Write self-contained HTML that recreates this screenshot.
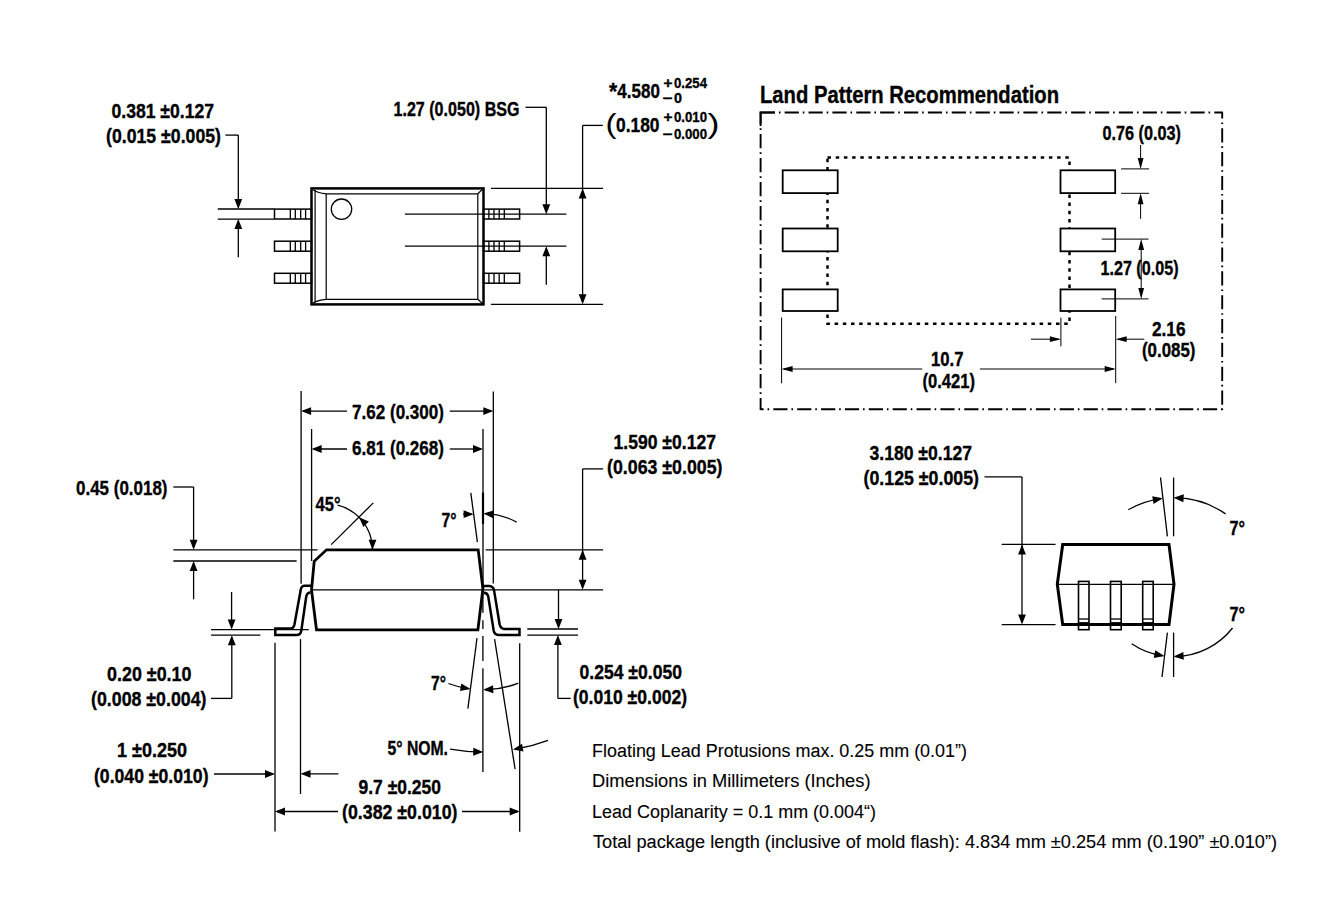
<!DOCTYPE html>
<html><head><meta charset="utf-8"><style>
html,body{margin:0;padding:0;background:#fff;width:1343px;height:921px;overflow:hidden}
svg{display:block}
text{font-family:"Liberation Sans",sans-serif;fill:#000}
</style></head><body>
<svg width="1343" height="921" viewBox="0 0 1343 921">
<rect width="1343" height="921" fill="#fff"/>
<g stroke="#000" fill="none" stroke-linecap="butt">
<rect x="311.5" y="188.4" width="172" height="116" stroke-width="2.5" fill="none"/>
<line x1="315.1" y1="190" x2="315.1" y2="302.8" stroke-width="1.2" />
<line x1="326.2" y1="193.8" x2="326.2" y2="299.3" stroke-width="1.2" />
<line x1="326.2" y1="193.8" x2="477.8" y2="193.8" stroke-width="1.2" />
<line x1="477.8" y1="193.8" x2="477.8" y2="299.3" stroke-width="1.2" />
<line x1="326.2" y1="299.3" x2="477.8" y2="299.3" stroke-width="1.2" />
<line x1="477.8" y1="193.8" x2="483.3" y2="188.5" stroke-width="1.2" />
<line x1="477.8" y1="299.3" x2="483.3" y2="304.3" stroke-width="1.2" />
<path d="M313,189.8 Q318,193.2 326.2,193.8" stroke-width="1.2" fill="none" />
<path d="M313,303 Q318,299.8 326.2,299.3" stroke-width="1.2" fill="none" />
<circle cx="341.5" cy="209.2" r="10.2" stroke-width="1.3" fill="none"/>
<rect x="274.5" y="209.1" width="37" height="9.9" stroke-width="1.5" fill="none"/>
<line x1="290.3" y1="209.1" x2="290.3" y2="219.0" stroke-width="1.3" />
<line x1="295.3" y1="209.1" x2="295.3" y2="219.0" stroke-width="1.3" />
<line x1="300.7" y1="209.1" x2="300.7" y2="219.0" stroke-width="1.3" />
<line x1="305.6" y1="209.1" x2="305.6" y2="219.0" stroke-width="1.3" />
<rect x="483.5" y="209.1" width="36.1" height="9.9" stroke-width="1.5" fill="none"/>
<line x1="488.9" y1="209.1" x2="488.9" y2="219.0" stroke-width="1.3" />
<line x1="494.0" y1="209.1" x2="494.0" y2="219.0" stroke-width="1.3" />
<line x1="499.2" y1="209.1" x2="499.2" y2="219.0" stroke-width="1.3" />
<line x1="504.3" y1="209.1" x2="504.3" y2="219.0" stroke-width="1.3" />
<rect x="274.5" y="241.2" width="37" height="10.0" stroke-width="1.5" fill="none"/>
<line x1="290.3" y1="241.2" x2="290.3" y2="251.2" stroke-width="1.3" />
<line x1="295.3" y1="241.2" x2="295.3" y2="251.2" stroke-width="1.3" />
<line x1="300.7" y1="241.2" x2="300.7" y2="251.2" stroke-width="1.3" />
<line x1="305.6" y1="241.2" x2="305.6" y2="251.2" stroke-width="1.3" />
<rect x="483.5" y="241.2" width="36.1" height="10.0" stroke-width="1.5" fill="none"/>
<line x1="488.9" y1="241.2" x2="488.9" y2="251.2" stroke-width="1.3" />
<line x1="494.0" y1="241.2" x2="494.0" y2="251.2" stroke-width="1.3" />
<line x1="499.2" y1="241.2" x2="499.2" y2="251.2" stroke-width="1.3" />
<line x1="504.3" y1="241.2" x2="504.3" y2="251.2" stroke-width="1.3" />
<rect x="274.5" y="273.3" width="37" height="9.9" stroke-width="1.5" fill="none"/>
<line x1="290.3" y1="273.3" x2="290.3" y2="283.2" stroke-width="1.3" />
<line x1="295.3" y1="273.3" x2="295.3" y2="283.2" stroke-width="1.3" />
<line x1="300.7" y1="273.3" x2="300.7" y2="283.2" stroke-width="1.3" />
<line x1="305.6" y1="273.3" x2="305.6" y2="283.2" stroke-width="1.3" />
<rect x="483.5" y="273.3" width="36.1" height="9.9" stroke-width="1.5" fill="none"/>
<line x1="488.9" y1="273.3" x2="488.9" y2="283.2" stroke-width="1.3" />
<line x1="494.0" y1="273.3" x2="494.0" y2="283.2" stroke-width="1.3" />
<line x1="499.2" y1="273.3" x2="499.2" y2="283.2" stroke-width="1.3" />
<line x1="504.3" y1="273.3" x2="504.3" y2="283.2" stroke-width="1.3" />
<line x1="404.9" y1="214.2" x2="566.3" y2="214.2" stroke-width="1.3" />
<line x1="404.9" y1="246.2" x2="566.3" y2="246.2" stroke-width="1.3" />
<line x1="217.8" y1="209.0" x2="274.5" y2="209.0" stroke-width="1.3" />
<line x1="217.8" y1="219.1" x2="274.5" y2="219.1" stroke-width="1.3" />
<line x1="225.4" y1="135.1" x2="238.3" y2="135.1" stroke-width="1.3" />
<line x1="238.3" y1="135.1" x2="238.3" y2="207.0" stroke-width="1.3" />
<polygon points="238.30,209.00 234.40,199.00 242.20,199.00" fill="#000" stroke="none"/>
<line x1="238.3" y1="257.3" x2="238.3" y2="221.1" stroke-width="1.3" />
<polygon points="238.30,219.10 242.20,229.10 234.40,229.10" fill="#000" stroke="none"/>
<text x="111.50" y="117.8" textLength="102.50" lengthAdjust="spacingAndGlyphs" font-size="19.5" font-weight="bold" stroke="#000" stroke-width="0.35">0.381 ±0.127</text>
<text x="106.00" y="142.9" textLength="115.00" lengthAdjust="spacingAndGlyphs" font-size="19.5" font-weight="bold" stroke="#000" stroke-width="0.35">(0.015 ±0.005)</text>
<text x="393.50" y="115.9" textLength="126.00" lengthAdjust="spacingAndGlyphs" font-size="19.5" font-weight="bold" stroke="#000" stroke-width="0.35">1.27 (0.050) BSG</text>
<line x1="525.5" y1="107.3" x2="546.3" y2="107.3" stroke-width="1.3" />
<line x1="546.3" y1="107.3" x2="546.3" y2="212.2" stroke-width="1.3" />
<polygon points="546.30,214.20 542.40,204.20 550.20,204.20" fill="#000" stroke="none"/>
<line x1="546.3" y1="284.7" x2="546.3" y2="248.2" stroke-width="1.3" />
<polygon points="546.30,246.20 550.20,256.20 542.40,256.20" fill="#000" stroke="none"/>
<line x1="490.9" y1="188.4" x2="603.1" y2="188.4" stroke-width="1.3" />
<line x1="490.9" y1="304.3" x2="603.1" y2="304.3" stroke-width="1.3" />
<line x1="582.6" y1="125.4" x2="602.8" y2="125.4" stroke-width="1.3" />
<line x1="582.6" y1="125.4" x2="582.6" y2="302" stroke-width="1.3" />
<polygon points="582.60,188.40 586.50,198.40 578.70,198.40" fill="#000" stroke="none"/>
<polygon points="582.60,304.30 578.70,294.30 586.50,294.30" fill="#000" stroke="none"/>
<text x="609.00" y="99.5" textLength="8.20" lengthAdjust="spacingAndGlyphs" font-size="24" font-weight="bold" stroke="#000" stroke-width="0.35">*</text>
<text x="617.30" y="98.0" textLength="42.60" lengthAdjust="spacingAndGlyphs" font-size="19.5" font-weight="bold" stroke="#000" stroke-width="0.35">4.580</text>
<text x="663.50" y="87.9" textLength="9.00" lengthAdjust="spacingAndGlyphs" font-size="14.5" font-weight="bold" stroke="#000" stroke-width="0.35">+</text>
<text x="674.00" y="87.9" textLength="33.00" lengthAdjust="spacingAndGlyphs" font-size="14.5" font-weight="bold" stroke="#000" stroke-width="0.35">0.254</text>
<text x="662.50" y="103.4" textLength="10.00" lengthAdjust="spacingAndGlyphs" font-size="14.5" font-weight="bold" stroke="#000" stroke-width="0.35">−</text>
<text x="674.00" y="103.4" textLength="8.00" lengthAdjust="spacingAndGlyphs" font-size="14.5" font-weight="bold" stroke="#000" stroke-width="0.35">0</text>
<text x="605.50" y="133.0" textLength="11.00" lengthAdjust="spacingAndGlyphs" font-size="27" font-weight="normal" stroke="#000" stroke-width="0.01">(</text>
<text x="616.00" y="132.0" textLength="43.50" lengthAdjust="spacingAndGlyphs" font-size="19.5" font-weight="bold" stroke="#000" stroke-width="0.35">0.180</text>
<text x="663.50" y="121.8" textLength="9.00" lengthAdjust="spacingAndGlyphs" font-size="14.5" font-weight="bold" stroke="#000" stroke-width="0.35">+</text>
<text x="674.00" y="121.8" textLength="33.00" lengthAdjust="spacingAndGlyphs" font-size="14.5" font-weight="bold" stroke="#000" stroke-width="0.35">0.010</text>
<text x="662.50" y="138.9" textLength="10.00" lengthAdjust="spacingAndGlyphs" font-size="14.5" font-weight="bold" stroke="#000" stroke-width="0.35">−</text>
<text x="674.00" y="138.9" textLength="33.00" lengthAdjust="spacingAndGlyphs" font-size="14.5" font-weight="bold" stroke="#000" stroke-width="0.35">0.000</text>
<text x="707.50" y="133.0" textLength="12.00" lengthAdjust="spacingAndGlyphs" font-size="27" font-weight="normal" stroke="#000" stroke-width="0.01">)</text>
<text x="760.00" y="102.6" textLength="299.00" lengthAdjust="spacingAndGlyphs" font-size="24.5" font-weight="bold" stroke="#000" stroke-width="0.35">Land Pattern Recommendation</text>
<line x1="760.6" y1="112.5" x2="1222.9" y2="112.5" stroke-width="1.9" stroke-dasharray="14.2 3.9 1.6 4.17" stroke-dashoffset="-0.2"/>
<line x1="1222.2" y1="112.5" x2="1222.2" y2="409.9" stroke-width="1.9" stroke-dasharray="14.2 3.9 1.6 4.15" stroke-dashoffset="8.15"/>
<line x1="760.6" y1="409.2" x2="1222.9" y2="409.2" stroke-width="1.9" stroke-dasharray="14.2 3.9 1.6 4.17" stroke-dashoffset="11.17"/>
<line x1="760.6" y1="112.5" x2="760.6" y2="409.9" stroke-width="1.9" stroke-dasharray="14.2 4.1 1.6 4.1" stroke-dashoffset="2.5"/>
<line x1="760.6" y1="111.6" x2="760.6" y2="126" stroke-width="1.9" />
<line x1="759.7" y1="112.5" x2="775" y2="112.5" stroke-width="1.9" />
<rect x="827.5" y="157.6" width="242" height="166.2" stroke-width="2.5" fill="none" stroke-dasharray="3.5 4.7"/>
<rect x="782.7" y="170.3" width="55" height="22.8" stroke-width="1.8" fill="#fff"/>
<rect x="1060.5" y="170.3" width="54.7" height="22.8" stroke-width="1.8" fill="#fff"/>
<rect x="782.7" y="228.5" width="55" height="22.8" stroke-width="1.8" fill="#fff"/>
<rect x="1060.5" y="228.5" width="54.7" height="22.8" stroke-width="1.8" fill="#fff"/>
<rect x="782.7" y="289.4" width="55" height="21.6" stroke-width="1.8" fill="#fff"/>
<rect x="1060.5" y="289.4" width="54.7" height="21.6" stroke-width="1.8" fill="#fff"/>
<text x="1102.50" y="139.8" textLength="78.50" lengthAdjust="spacingAndGlyphs" font-size="19.5" font-weight="bold" stroke="#000" stroke-width="0.35">0.76 (0.03)</text>
<line x1="1140.6" y1="145" x2="1140.6" y2="166.9" stroke-width="1.0" />
<polygon points="1140.60,168.90 1137.70,157.90 1143.50,157.90" fill="#000" stroke="none"/>
<line x1="1121.1" y1="168.9" x2="1149.1" y2="168.9" stroke-width="1.0" />
<line x1="1121.1" y1="193.3" x2="1149.1" y2="193.3" stroke-width="1.0" />
<line x1="1140.6" y1="218.8" x2="1140.6" y2="195.3" stroke-width="1.0" />
<polygon points="1140.60,193.30 1143.50,204.30 1137.70,204.30" fill="#000" stroke="none"/>
<line x1="1101.7" y1="239.1" x2="1148.5" y2="239.1" stroke-width="1.0" />
<line x1="1101.7" y1="298.9" x2="1148.5" y2="298.9" stroke-width="1.0" />
<line x1="1141.2" y1="250" x2="1141.2" y2="288" stroke-width="1.0" />
<polygon points="1141.20,239.10 1144.10,250.10 1138.30,250.10" fill="#000" stroke="none"/>
<polygon points="1141.20,298.90 1138.30,287.90 1144.10,287.90" fill="#000" stroke="none"/>
<text x="1100.50" y="274.7" textLength="78.00" lengthAdjust="spacingAndGlyphs" font-size="19.5" font-weight="bold" stroke="#000" stroke-width="0.35">1.27 (0.05)</text>
<line x1="1115.7" y1="316" x2="1115.7" y2="383.2" stroke-width="1.0" />
<line x1="1060.9" y1="317.7" x2="1060.9" y2="346.3" stroke-width="1.0" />
<line x1="1031" y1="339.2" x2="1058.9" y2="339.2" stroke-width="1.0" />
<polygon points="1060.90,339.20 1049.90,342.10 1049.90,336.30" fill="#000" stroke="none"/>
<line x1="1144.3" y1="339.2" x2="1117.7" y2="339.2" stroke-width="1.0" />
<polygon points="1115.70,339.20 1126.70,336.30 1126.70,342.10" fill="#000" stroke="none"/>
<text x="1152.00" y="335.6" textLength="33.50" lengthAdjust="spacingAndGlyphs" font-size="19.5" font-weight="bold" stroke="#000" stroke-width="0.35">2.16</text>
<text x="1142.00" y="357.4" textLength="53.50" lengthAdjust="spacingAndGlyphs" font-size="19.5" font-weight="bold" stroke="#000" stroke-width="0.35">(0.085)</text>
<line x1="781.6" y1="317.5" x2="781.6" y2="383.3" stroke-width="1.0" />
<line x1="922.2" y1="369.0" x2="783.6" y2="369.0" stroke-width="1.0" />
<polygon points="781.60,369.00 792.60,366.10 792.60,371.90" fill="#000" stroke="none"/>
<line x1="979.9" y1="369.0" x2="1113.7" y2="369.0" stroke-width="1.0" />
<polygon points="1115.70,369.00 1104.70,371.90 1104.70,366.10" fill="#000" stroke="none"/>
<text x="931.00" y="365.6" textLength="32.50" lengthAdjust="spacingAndGlyphs" font-size="19.5" font-weight="bold" stroke="#000" stroke-width="0.35">10.7</text>
<text x="922.50" y="387.6" textLength="52.50" lengthAdjust="spacingAndGlyphs" font-size="19.5" font-weight="bold" stroke="#000" stroke-width="0.35">(0.421)</text>
<path d="M326.5,549.8 L478.2,549.8 L482.9,588.6 L477.9,629.8 L316.5,629.8 L311.5,590 L314.2,561.3 Z" stroke-width="2.8" fill="none" />
<line x1="311.5" y1="589.8" x2="603.1" y2="589.8" stroke-width="1.3" />
<line x1="173.3" y1="549.8" x2="317.5" y2="549.8" stroke-width="1.3" />
<line x1="485.7" y1="549.8" x2="603.1" y2="549.8" stroke-width="1.3" />
<line x1="173.3" y1="561.0" x2="296.6" y2="561.0" stroke-width="1.3" />
<path d="M311.4,585.8 L304.3,585.8 Q301.0,586.2 300.6,590.5 L294.4,624.8 Q293.6,628.5 290.5,628.5 L275.3,628.5 L275.3,635.1 L296.5,635.1 Q300.6,635 301.3,630.8 L306.2,596.8 Q307.0,592.6 310.6,592.6" stroke-width="2.5" fill="none" />
<path d="M483.3,586.0 L489.3,586.0 Q493.4,586.4 494.1,590.6 L499.6,624.3 Q500.6,629.0 504.5,629.0 L519.5,629.0 L519.5,635.1 L498.5,635.1 Q494.5,634.8 493.7,630.8 L488.2,596.3 Q487.3,592.8 483.9,592.8" stroke-width="2.5" fill="none" />
<line x1="301.1" y1="390.9" x2="301.1" y2="583.7" stroke-width="1.3" />
<line x1="311.6" y1="429.0" x2="311.6" y2="561.0" stroke-width="1.3" />
<line x1="493.3" y1="391.4" x2="493.3" y2="583.4" stroke-width="1.3" />
<line x1="483.0" y1="428.9" x2="483.0" y2="589.0" stroke-width="1.3" />
<line x1="483.0" y1="492.5" x2="483.0" y2="523.8" stroke-width="2.2" />
<line x1="482.9" y1="592.6" x2="482.9" y2="612.7" stroke-width="1.3" />
<line x1="482.9" y1="620.3" x2="482.9" y2="629" stroke-width="1.3" />
<line x1="482.9" y1="636.1" x2="482.9" y2="661.1" stroke-width="1.3" />
<line x1="482.9" y1="668.2" x2="482.9" y2="772.0" stroke-width="1.3" />
<line x1="470.8" y1="492.8" x2="477.4" y2="542.2" stroke-width="1.3" />
<line x1="477.0" y1="638.0" x2="467.9" y2="708.7" stroke-width="1.3" />
<line x1="494.6" y1="639.1" x2="515.1" y2="769.1" stroke-width="1.3" />
<line x1="347" y1="411.1" x2="303.1" y2="411.1" stroke-width="1.3" />
<polygon points="301.10,411.10 311.10,407.20 311.10,415.00" fill="#000" stroke="none"/>
<line x1="449.8" y1="411.1" x2="491.3" y2="411.1" stroke-width="1.3" />
<polygon points="493.30,411.10 483.30,415.00 483.30,407.20" fill="#000" stroke="none"/>
<text x="352.00" y="418.6" textLength="92.00" lengthAdjust="spacingAndGlyphs" font-size="19.5" font-weight="bold" stroke="#000" stroke-width="0.35">7.62 (0.300)</text>
<line x1="347" y1="449.0" x2="313.6" y2="449.0" stroke-width="1.3" />
<polygon points="311.60,449.00 321.60,445.10 321.60,452.90" fill="#000" stroke="none"/>
<line x1="449.8" y1="449.0" x2="481.0" y2="449.0" stroke-width="1.3" />
<polygon points="483.00,449.00 473.00,452.90 473.00,445.10" fill="#000" stroke="none"/>
<text x="352.00" y="454.7" textLength="92.00" lengthAdjust="spacingAndGlyphs" font-size="19.5" font-weight="bold" stroke="#000" stroke-width="0.35">6.81 (0.268)</text>
<text x="315.50" y="510.6" textLength="25.00" lengthAdjust="spacingAndGlyphs" font-size="19.5" font-weight="bold" stroke="#000" stroke-width="0.35">45°</text>
<path d="M337.63,505.17 A46,46 0 0 1 372.49,549.00" stroke-width="1.3" fill="none" />
<polygon points="359.03,517.27 368.86,521.59 363.34,527.10" fill="#000" stroke="none"/>
<polygon points="372.50,549.80 368.60,539.80 376.40,539.80" fill="#000" stroke="none"/>
<line x1="331.2" y1="544.6" x2="373.3" y2="502.9" stroke-width="1.3" />
<text x="441.50" y="527.3" textLength="15.00" lengthAdjust="spacingAndGlyphs" font-size="19.5" font-weight="bold" stroke="#000" stroke-width="0.35">7°</text>
<line x1="463.1" y1="514.2" x2="471.6" y2="514.2" stroke-width="1.3" />
<polygon points="473.60,514.20 463.60,518.10 463.60,510.30" fill="#000" stroke="none"/>
<path d="M516.65,522.10 A70.5,70.5 0 0 0 485.39,513.54" stroke-width="1.3" fill="none" />
<polygon points="483.39,513.50 493.67,510.39 493.06,518.17" fill="#000" stroke="none"/>
<text x="613.50" y="449.3" textLength="102.50" lengthAdjust="spacingAndGlyphs" font-size="19.5" font-weight="bold" stroke="#000" stroke-width="0.35">1.590 ±0.127</text>
<text x="607.00" y="473.8" textLength="115.50" lengthAdjust="spacingAndGlyphs" font-size="19.5" font-weight="bold" stroke="#000" stroke-width="0.35">(0.063 ±0.005)</text>
<line x1="582.6" y1="468.9" x2="603.1" y2="468.9" stroke-width="1.3" />
<line x1="582.6" y1="468.9" x2="582.6" y2="580" stroke-width="1.3" />
<polygon points="582.60,549.80 586.50,559.80 578.70,559.80" fill="#000" stroke="none"/>
<polygon points="582.60,589.80 578.70,579.80 586.50,579.80" fill="#000" stroke="none"/>
<line x1="558.5" y1="589.8" x2="558.5" y2="627.0" stroke-width="1.3" />
<polygon points="558.50,629.00 554.60,619.00 562.40,619.00" fill="#000" stroke="none"/>
<line x1="527.3" y1="629.0" x2="578" y2="629.0" stroke-width="1.3" />
<line x1="527.3" y1="635.1" x2="578" y2="635.1" stroke-width="1.3" />
<line x1="557.9" y1="698.4" x2="570.7" y2="698.4" stroke-width="1.3" />
<line x1="557.9" y1="698.4" x2="557.9" y2="637.1" stroke-width="1.3" />
<polygon points="557.90,635.10 561.80,645.10 554.00,645.10" fill="#000" stroke="none"/>
<text x="579.50" y="678.7" textLength="102.50" lengthAdjust="spacingAndGlyphs" font-size="19.5" font-weight="bold" stroke="#000" stroke-width="0.35">0.254 ±0.050</text>
<text x="573.00" y="703.7" textLength="114.00" lengthAdjust="spacingAndGlyphs" font-size="19.5" font-weight="bold" stroke="#000" stroke-width="0.35">(0.010 ±0.002)</text>
<text x="76.00" y="494.8" textLength="91.50" lengthAdjust="spacingAndGlyphs" font-size="19.5" font-weight="bold" stroke="#000" stroke-width="0.35">0.45 (0.018)</text>
<line x1="173.3" y1="487.0" x2="193.6" y2="487.0" stroke-width="1.3" />
<line x1="193.6" y1="487.0" x2="193.6" y2="547.8" stroke-width="1.3" />
<polygon points="193.60,549.80 189.70,539.80 197.50,539.80" fill="#000" stroke="none"/>
<line x1="193.6" y1="599.3" x2="193.6" y2="563.0" stroke-width="1.3" />
<polygon points="193.60,561.00 197.50,571.00 189.70,571.00" fill="#000" stroke="none"/>
<line x1="231.6" y1="592" x2="231.6" y2="627.6" stroke-width="1.3" />
<polygon points="231.60,629.60 227.70,619.60 235.50,619.60" fill="#000" stroke="none"/>
<line x1="211" y1="629.6" x2="308.8" y2="629.6" stroke-width="1.3" />
<line x1="211" y1="635.2" x2="260.4" y2="635.2" stroke-width="1.3" />
<line x1="211" y1="698.4" x2="231.8" y2="698.4" stroke-width="1.3" />
<line x1="231.8" y1="698.4" x2="231.8" y2="637.2" stroke-width="1.3" />
<polygon points="231.80,635.20 235.70,645.20 227.90,645.20" fill="#000" stroke="none"/>
<text x="107.00" y="680.9" textLength="84.50" lengthAdjust="spacingAndGlyphs" font-size="19.5" font-weight="bold" stroke="#000" stroke-width="0.35">0.20 ±0.10</text>
<text x="91.00" y="705.5" textLength="115.50" lengthAdjust="spacingAndGlyphs" font-size="19.5" font-weight="bold" stroke="#000" stroke-width="0.35">(0.008 ±0.004)</text>
<text x="117.00" y="756.7" textLength="70.00" lengthAdjust="spacingAndGlyphs" font-size="19.5" font-weight="bold" stroke="#000" stroke-width="0.35">1 ±0.250</text>
<text x="94.00" y="782.5" textLength="114.50" lengthAdjust="spacingAndGlyphs" font-size="19.5" font-weight="bold" stroke="#000" stroke-width="0.35">(0.040 ±0.010)</text>
<line x1="214.1" y1="774.0" x2="273.0" y2="774.0" stroke-width="1.3" />
<polygon points="275.00,774.00 265.00,777.90 265.00,770.10" fill="#000" stroke="none"/>
<line x1="275.0" y1="642.7" x2="275.0" y2="831.6" stroke-width="1.3" />
<line x1="300.5" y1="639.1" x2="300.5" y2="794.0" stroke-width="1.3" />
<line x1="338.4" y1="773.8" x2="302.5" y2="773.8" stroke-width="1.3" />
<polygon points="300.50,773.80 310.50,769.90 310.50,777.70" fill="#000" stroke="none"/>
<text x="358.50" y="793.7" textLength="82.50" lengthAdjust="spacingAndGlyphs" font-size="19.5" font-weight="bold" stroke="#000" stroke-width="0.35">9.7 ±0.250</text>
<text x="342.00" y="819.2" textLength="115.50" lengthAdjust="spacingAndGlyphs" font-size="19.5" font-weight="bold" stroke="#000" stroke-width="0.35">(0.382 ±0.010)</text>
<line x1="338" y1="811.5" x2="277.0" y2="811.5" stroke-width="1.3" />
<polygon points="275.00,811.50 285.00,807.60 285.00,815.40" fill="#000" stroke="none"/>
<line x1="462" y1="811.5" x2="517.7" y2="811.5" stroke-width="1.3" />
<polygon points="519.70,811.50 509.70,815.40 509.70,807.60" fill="#000" stroke="none"/>
<line x1="519.7" y1="643.2" x2="519.7" y2="831.8" stroke-width="1.3" />
<text x="431.00" y="689.7" textLength="15.00" lengthAdjust="spacingAndGlyphs" font-size="19.5" font-weight="bold" stroke="#000" stroke-width="0.35">7°</text>
<path d="M448.40,683.50 A97.6,97.6 0 0 0 468.52,688.73" stroke-width="1.3" fill="none" />
<polygon points="470.50,689.01 459.96,691.07 461.35,683.39" fill="#000" stroke="none"/>
<path d="M518.35,683.13 A97.6,97.6 0 0 1 485.24,689.77" stroke-width="1.3" fill="none" />
<polygon points="483.24,689.80 493.01,685.36 493.44,693.15" fill="#000" stroke="none"/>
<text x="387.50" y="755.4" textLength="60.50" lengthAdjust="spacingAndGlyphs" font-size="19.5" font-weight="bold" stroke="#000" stroke-width="0.35">5° NOM.</text>
<path d="M450.11,749.10 A187.0,187.0 0 0 0 481.23,751.99" stroke-width="1.3" fill="none" />
<polygon points="483.23,752.00 473.13,755.65 473.33,747.85" fill="#000" stroke="none"/>
<path d="M548.08,740.27 A187.0,187.0 0 0 1 514.93,749.24" stroke-width="1.3" fill="none" />
<polygon points="512.96,749.57 522.05,743.87 523.51,751.53" fill="#000" stroke="none"/>
<text x="869.50" y="459.7" textLength="102.50" lengthAdjust="spacingAndGlyphs" font-size="19.5" font-weight="bold" stroke="#000" stroke-width="0.35">3.180 ±0.127</text>
<text x="863.50" y="484.7" textLength="115.50" lengthAdjust="spacingAndGlyphs" font-size="19.5" font-weight="bold" stroke="#000" stroke-width="0.35">(0.125 ±0.005)</text>
<line x1="984.5" y1="476.9" x2="1022" y2="476.9" stroke-width="1.3" />
<line x1="1022" y1="476.9" x2="1022" y2="615" stroke-width="1.3" />
<polygon points="1022.00,544.40 1025.90,554.40 1018.10,554.40" fill="#000" stroke="none"/>
<polygon points="1022.00,624.60 1018.10,614.60 1025.90,614.60" fill="#000" stroke="none"/>
<line x1="1001.7" y1="544.4" x2="1055.5" y2="544.4" stroke-width="1.3" />
<line x1="1001.7" y1="624.6" x2="1055.5" y2="624.6" stroke-width="1.3" />
<path d="M1062.7,544.6 H1169 L1174,584.3 L1169,624.6 H1062.7 L1057.3,584.3 Z" stroke-width="3" fill="none" />
<line x1="1057.3" y1="584.3" x2="1174" y2="584.3" stroke-width="1.2" />
<rect x="1078.5" y="581.4" width="10.5" height="48.3" stroke-width="1.6" fill="none"/>
<line x1="1078.5" y1="619" x2="1089" y2="619" stroke-width="1.3" />
<line x1="1078.5" y1="622.6" x2="1089" y2="622.6" stroke-width="1.0" />
<rect x="1110.5" y="581.4" width="10.7" height="48.3" stroke-width="1.6" fill="none"/>
<line x1="1110.5" y1="619" x2="1121.2" y2="619" stroke-width="1.3" />
<line x1="1110.5" y1="622.6" x2="1121.2" y2="622.6" stroke-width="1.0" />
<rect x="1142.7" y="581.4" width="10.5" height="48.3" stroke-width="1.6" fill="none"/>
<line x1="1142.7" y1="619" x2="1153.2" y2="619" stroke-width="1.3" />
<line x1="1142.7" y1="622.6" x2="1153.2" y2="622.6" stroke-width="1.0" />
<line x1="1173.6" y1="477.5" x2="1173.6" y2="536.3" stroke-width="1.3" />
<line x1="1160.5" y1="477.5" x2="1167.4" y2="536.3" stroke-width="1.3" />
<path d="M1128.27,509.72 A91.5,91.5 0 0 1 1160.78,498.60" stroke-width="1.3" fill="none" />
<polygon points="1162.77,498.34 1153.59,503.91 1152.24,496.23" fill="#000" stroke="none"/>
<path d="M1225.56,513.88 A91.5,91.5 0 0 0 1175.60,497.72" stroke-width="1.3" fill="none" />
<polygon points="1173.60,497.70 1183.80,494.35 1183.37,502.14" fill="#000" stroke="none"/>
<text x="1229.50" y="534.8" textLength="15.50" lengthAdjust="spacingAndGlyphs" font-size="19.5" font-weight="bold" stroke="#000" stroke-width="0.35">7°</text>
<line x1="1173.6" y1="632.6" x2="1173.6" y2="677" stroke-width="1.3" />
<line x1="1167.4" y1="632.6" x2="1162" y2="677" stroke-width="1.3" />
<path d="M1131.66,643.78 A75.0,75.0 0 0 0 1162.35,655.75" stroke-width="1.3" fill="none" />
<polygon points="1164.33,656.02 1153.77,657.96 1155.25,650.30" fill="#000" stroke="none"/>
<path d="M1232.54,627.98 A75.0,75.0 0 0 1 1175.60,656.57" stroke-width="1.3" fill="none" />
<polygon points="1173.60,656.60 1183.32,652.04 1183.84,659.83" fill="#000" stroke="none"/>
<text x="1229.50" y="621.4" textLength="15.50" lengthAdjust="spacingAndGlyphs" font-size="19.5" font-weight="bold" stroke="#000" stroke-width="0.35">7°</text>
<text x="592.00" y="756.9" textLength="375.00" lengthAdjust="spacingAndGlyphs" font-size="17.6" font-weight="normal" stroke="#000" stroke-width="0.1">Floating Lead Protusions max. 0.25 mm (0.01”)</text>
<text x="592.00" y="787.2" textLength="278.50" lengthAdjust="spacingAndGlyphs" font-size="17.6" font-weight="normal" stroke="#000" stroke-width="0.1">Dimensions in Millimeters (Inches)</text>
<text x="592.00" y="818.2" textLength="284.00" lengthAdjust="spacingAndGlyphs" font-size="17.6" font-weight="normal" stroke="#000" stroke-width="0.1">Lead Coplanarity = 0.1 mm (0.004“)</text>
<text x="593.00" y="847.9" textLength="684.00" lengthAdjust="spacingAndGlyphs" font-size="17.6" font-weight="normal" stroke="#000" stroke-width="0.1">Total package length (inclusive of mold flash): 4.834 mm ±0.254 mm (0.190” ±0.010”)</text>
</g>
</svg>
</body></html>
